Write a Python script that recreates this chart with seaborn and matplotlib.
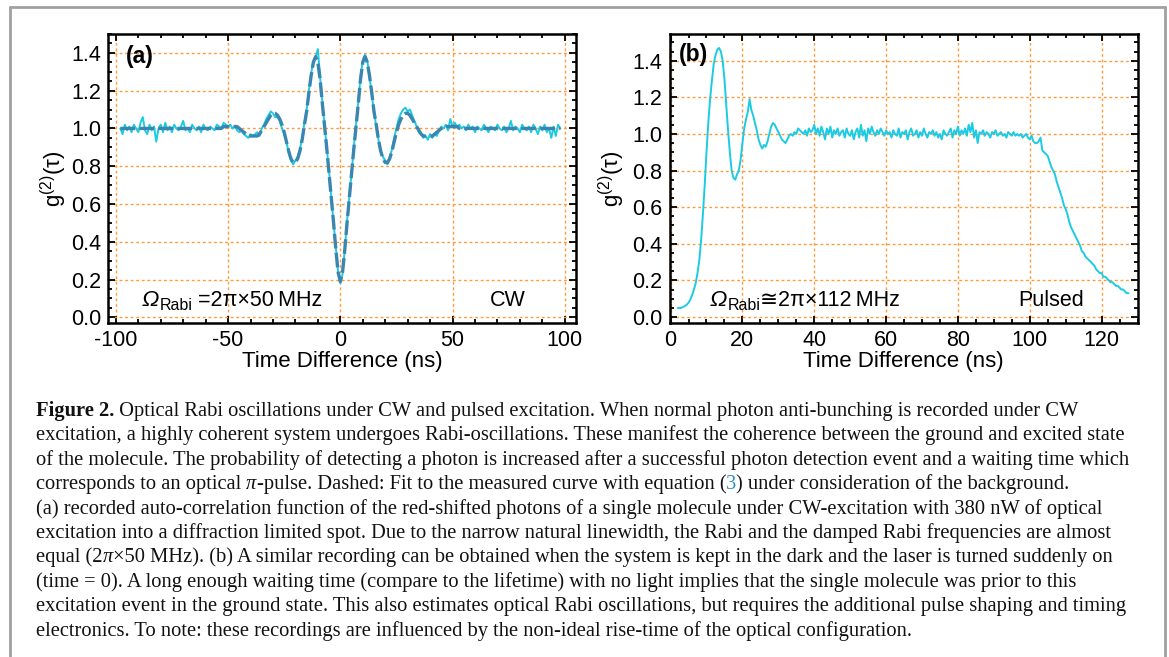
import numpy as np
import pandas as pd
import matplotlib
matplotlib.use("Agg")
import matplotlib.pyplot as plt
import seaborn as sns
from matplotlib.ticker import MultipleLocator, FormatStrFormatter
from matplotlib.lines import Line2D

# ---------------- data ----------------
# panel (a): CW excitation, time axis in ns (1 ns bins)
A_TIME = np.arange(-98, 99, 1)
A_G2 = [
    1.00, 0.97, 1.02, 0.99, 1.01, 0.98, 1.02, 1.00, 0.98, 1.03,
    1.06, 0.99, 0.97, 1.02, 0.99, 1.01, 0.93, 1.00, 1.02, 0.98,
    1.03, 0.99, 1.01, 0.98, 1.02, 1.00, 0.99, 1.01, 1.04, 0.99,
    1.00, 0.98, 1.02, 1.00, 0.99, 1.01, 0.98, 1.02, 1.00, 0.99,
    1.01, 1.00, 0.99, 1.02, 1.01, 1.00, 1.03, 1.02, 1.01, 1.02,
    1.00, 1.01, 0.99, 0.98, 0.99, 0.97, 0.96, 0.95, 0.97, 0.96,
    0.97, 0.98, 0.96, 1.00, 1.02, 1.05, 1.07, 1.09, 1.08, 1.06,
    1.06, 1.04, 1.00, 0.97, 0.93, 0.87, 0.83, 0.81, 0.83, 0.85,
    0.89, 0.95, 1.03, 1.10, 1.20, 1.29, 1.36, 1.38, 1.42, 1.27,
    1.14, 1.02, 0.89, 0.77, 0.63, 0.50, 0.37, 0.24, 0.18, 0.23,
    0.36, 0.51, 0.64, 0.76, 0.90, 1.02, 1.14, 1.27, 1.36, 1.39,
    1.36, 1.28, 1.18, 1.09, 1.01, 0.94, 0.88, 0.85, 0.83, 0.81,
    0.84, 0.89, 0.95, 1.00, 1.05, 1.08, 1.10, 1.11, 1.09, 1.10,
    1.07, 1.04, 1.01, 0.98, 0.97, 0.95, 0.96, 0.94, 0.97, 0.95,
    0.97, 0.96, 0.99, 1.01, 1.00, 1.02, 0.99, 1.05, 1.01, 1.03,
    1.01, 1.02, 1.00, 1.01, 0.99, 1.02, 1.00, 1.01, 0.98, 1.01,
    1.00, 0.99, 1.02, 1.00, 0.98, 1.01, 1.00, 0.99, 1.02, 1.00,
    0.99, 1.01, 0.98, 1.00, 1.04, 0.99, 1.01, 1.00, 0.98, 1.02,
    1.00, 0.99, 1.01, 0.98, 1.02, 1.00, 0.97, 1.01, 0.99, 1.02,
    0.98, 1.00, 0.95, 1.01, 0.96, 1.02, 1.00,
]
A_FIT = [
    1.00, 1.00, 1.00, 1.00, 1.00, 1.00, 1.00, 1.00, 1.00, 1.00,
    1.00, 1.00, 1.00, 1.00, 1.00, 1.00, 1.00, 1.00, 1.00, 1.00,
    1.00, 1.00, 1.00, 1.00, 1.00, 1.00, 1.00, 1.00, 1.00, 1.00,
    1.00, 1.00, 1.00, 1.00, 1.00, 1.00, 1.00, 1.00, 1.00, 1.00,
    1.00, 1.00, 1.00, 1.00, 1.00,
    1.00, 1.01, 1.01, 1.01, 1.01, 1.01, 1.01, 1.01, 1.00, 0.99,
    0.98, 0.97, 0.96, 0.96, 0.96, 0.96, 0.96, 0.97, 0.99, 1.01,
    1.03, 1.05, 1.07, 1.08, 1.08, 1.07, 1.05, 1.02, 0.98, 0.93,
    0.88, 0.84, 0.82, 0.82, 0.84, 0.88, 0.94, 1.02, 1.09, 1.19,
    1.28, 1.35, 1.38, 1.35, 1.26, 1.13, 1.01, 0.89, 0.76, 0.63,
    0.50, 0.36, 0.24,
    0.19,
    0.24, 0.36, 0.50, 0.63, 0.76, 0.89, 1.01, 1.13, 1.26, 1.35,
    1.38, 1.35, 1.28, 1.19, 1.09, 1.02, 0.94, 0.88, 0.84, 0.82,
    0.82, 0.84, 0.88, 0.93, 0.98, 1.02, 1.05, 1.07, 1.08, 1.08,
    1.07, 1.05, 1.03, 1.01, 0.99, 0.97, 0.96, 0.96, 0.96, 0.96,
    0.96, 0.97, 0.98, 0.99, 1.00, 1.01, 1.01, 1.01, 1.01, 1.01,
    1.01, 1.01, 1.00,
    1.00, 1.00, 1.00, 1.00, 1.00, 1.00, 1.00, 1.00, 1.00, 1.00,
    1.00, 1.00, 1.00, 1.00, 1.00, 1.00, 1.00, 1.00, 1.00, 1.00,
    1.00, 1.00, 1.00, 1.00, 1.00, 1.00, 1.00, 1.00, 1.00, 1.00,
    1.00, 1.00, 1.00, 1.00, 1.00, 1.00, 1.00, 1.00, 1.00, 1.00,
    1.00, 1.00, 1.00, 1.00, 1.00,
]

# panel (b): pulsed excitation, time axis in ns (0.5 ns bins, 2.0 ... 127.5)
B_TIME = np.arange(2.0, 128.0, 0.5)
B_G2 = [
    0.050, 0.048, 0.050, 0.055, 0.060, 0.067, 0.078, 0.095, 0.120, 0.150,
    0.185, 0.24, 0.31, 0.42, 0.56, 0.72, 0.90, 1.06, 1.19, 1.29,
    1.38, 1.43, 1.46, 1.47, 1.45, 1.40, 1.30, 1.16, 1.02, 0.90,
    0.80, 0.76, 0.75, 0.78, 0.80, 0.86, 0.95, 1.03, 1.08, 1.12,
    1.19, 1.13, 1.10, 1.06, 1.02, 0.97, 0.94, 0.92, 0.94, 0.93,
    0.96, 1.00, 1.04, 1.06, 1.05, 1.03, 1.01, 0.99, 0.97, 0.96,
    0.95, 0.97, 0.99, 1.00, 0.99, 1.01, 1.00, 1.03, 1.02, 1.01,
    1.00, 1.02, 0.99, 1.03, 1.01, 1.02, 1.05, 1.00, 1.03, 0.99,
    1.04, 1.01, 0.97, 1.03, 1.00, 1.04, 0.98, 1.02, 1.00, 1.03,
    0.99, 1.01, 1.02, 0.98, 1.03, 1.00, 0.99, 1.02, 0.97, 1.01,
    1.03, 0.98, 1.05, 0.99, 1.02, 0.96, 1.03, 1.00, 1.04, 1.01,
    0.99, 1.02, 1.00, 1.03, 1.01, 0.99, 1.02, 1.00, 1.01, 0.98,
    1.02, 1.00, 0.99, 1.03, 0.98, 1.01, 1.00, 1.02, 0.97, 1.01,
    1.03, 0.99, 1.00, 1.02, 0.98, 1.01, 0.99, 1.03, 1.00, 0.98,
    1.01, 1.00, 1.02, 0.99, 1.01, 0.98, 1.00, 0.97, 1.02, 1.00,
    0.99, 1.01, 1.03, 0.98, 1.02, 1.00, 1.04, 0.99, 1.02, 1.00,
    1.03, 0.99, 1.05, 1.01, 1.06, 0.98, 1.02, 0.95, 1.01, 1.00,
    1.02, 0.99, 1.01, 1.00, 0.98, 1.01, 1.00, 1.02, 0.99, 1.00,
    1.01, 0.99, 1.00, 0.98, 1.01, 1.00, 0.99, 1.01, 0.99, 1.00,
    0.99, 1.00, 0.98, 0.99, 1.00, 0.98, 0.97, 0.99, 0.96, 0.95,
    0.95, 0.96, 0.98, 0.91, 0.90, 0.89, 0.88, 0.85, 0.82, 0.80,
    0.78, 0.74, 0.71, 0.68, 0.65, 0.61, 0.59, 0.56, 0.52, 0.49,
    0.47, 0.45, 0.43, 0.41, 0.39, 0.36, 0.35, 0.33, 0.32, 0.31,
    0.30, 0.29, 0.28, 0.26, 0.25, 0.24, 0.24, 0.22, 0.22, 0.21,
    0.20, 0.19, 0.19, 0.18, 0.17, 0.17, 0.16, 0.15, 0.15, 0.14, 0.13, 0.13,
]

A_XTICKS = [-100, -50, 0, 50, 100]
B_XTICKS = [0, 20, 40, 60, 80, 100, 120]
Y_TICKS = [0.0, 0.2, 0.4, 0.6, 0.8, 1.0, 1.2, 1.4]
X_LABEL = "Time Difference (ns)"
Y_LABEL = r"g$^{(2)}$(τ)"
PANEL_LABELS = ["(a)", "(b)"]
RABI_SYMBOL = "Ω"
RABI_SUB = "Rabi"
RABI_A = " =2π×50\u2009MHz"
RABI_B = "≅2π×112\u2009MHz"
MODE_LABELS = ["CW", "Pulsed"]

CAPTION = [
    [("Figure 2.", "b"), (" Optical Rabi oscillations under CW and pulsed excitation. When normal photon anti-bunching is recorded under CW", "n")],
    [("excitation, a highly coherent system undergoes Rabi-oscillations. These manifest the coherence between the ground and excited state", "n")],
    [("of the molecule. The probability of detecting a photon is increased after a successful photon detection event and a waiting time which", "n")],
    [("corresponds to an optical ", "n"), ("π", "i"), ("-pulse. Dashed: Fit to the measured curve with equation (", "n"), ("3", "c"), (") under consideration of the background.", "n")],
    [("(a) recorded auto-correlation function of the red-shifted photons of a single molecule under CW-excitation with 380 nW of optical", "n")],
    [("excitation into a diffraction limited spot. Due to the narrow natural linewidth, the Rabi and the damped Rabi frequencies are almost", "n")],
    [("equal (2", "n"), ("π", "i"), ("×50 MHz). (b) A similar recording can be obtained when the system is kept in the dark and the laser is turned suddenly on", "n")],
    [("(time = 0). A long enough waiting time (compare to the lifetime) with no light implies that the single molecule was prior to this", "n")],
    [("excitation event in the ground state. This also estimates optical Rabi oscillations, but requires the additional pulse shaping and timing", "n")],
    [("electronics. To note: these recordings are influenced by the non-ideal rise-time of the optical configuration.", "n")],
]

# ---------------- style ----------------
CYAN = "#1ccbe3"
FIT_BLUE = "#3b86b0"
ORANGE = "#ff9a3a"
SANS = ["Liberation Sans", "DejaVu Sans"]
SERIF = ["Liberation Serif", "DejaVu Serif"]

sns.set_theme(style="ticks")
plt.rcParams["font.family"] = SANS
plt.rcParams["axes.unicode_minus"] = False
plt.rcParams["mathtext.fontset"] = "custom"
plt.rcParams["mathtext.rm"] = "Liberation Sans"
plt.rcParams["mathtext.it"] = "Liberation Sans:italic"
plt.rcParams["mathtext.bf"] = "Liberation Sans:bold"
plt.rcParams["mathtext.sf"] = "Liberation Sans"

W, H = 1169, 657
fig = plt.figure(figsize=(W / 100, H / 100), dpi=100)
fig.patch.set_facecolor("white")


def rect(l, t, r, b):
    return [l / W, 1 - b / H, (r - l) / W, (b - t) / H]


axA = fig.add_axes(rect(108, 34, 576, 323))
axB = fig.add_axes(rect(669.5, 34, 1137.5, 323))

dfA = pd.DataFrame({"t": A_TIME, "g2": A_G2, "fit": A_FIT})
dfB = pd.DataFrame({"t": B_TIME, "g2": B_G2})

sns.lineplot(data=dfA, x="t", y="g2", ax=axA, color=CYAN, lw=1.4, estimator=None, zorder=3)
sns.lineplot(data=dfA, x="t", y="fit", ax=axA, color=FIT_BLUE, lw=2.4, estimator=None,
             linestyle=(0, (4.4, 1.3)), zorder=4)
sns.lineplot(data=dfB, x="t", y="g2", ax=axB, color=CYAN, lw=1.4, estimator=None, zorder=3)

for ax, xt, xlim, ylim, xminor, lpad in [
    (axA, A_XTICKS, (-103.5, 105), (-0.03, 1.5), 10, 1.5),
    (axB, B_XTICKS, (-0.3, 130), (-0.033, 1.546), 5, 4),
]:
    ax.set_xlim(*xlim)
    ax.set_ylim(*ylim)
    ax.set_xticks(xt)
    ax.set_yticks(Y_TICKS)
    ax.yaxis.set_major_formatter(FormatStrFormatter("%.1f"))
    ax.xaxis.set_minor_locator(MultipleLocator(xminor))
    ax.yaxis.set_minor_locator(MultipleLocator(0.05))
    ax.set_axisbelow(True)
    ax.grid(True, which="major", color=ORANGE, linestyle=(0, (2, 2)), linewidth=1.0)
    ax.tick_params(which="both", direction="in", top=True, right=True, color="black",
                   width=1.3, labelsize=15.5, labelcolor="black")
    ax.tick_params(which="major", length=5, pad=5)
    ax.tick_params(which="minor", length=3)
    for s in ax.spines.values():
        s.set_visible(True)
        s.set_linewidth(1.8)
        s.set_color("black")
    ax.set_xlabel(X_LABEL, fontsize=16, labelpad=0, color="black")
    ax.set_ylabel(Y_LABEL, fontsize=16, labelpad=lpad, color="black")
    ax.set_facecolor("white")

# overlay for free text
ov = fig.add_axes([0, 0, 1, 1], zorder=10)
ov.set_axis_off()
ov.patch.set_alpha(0)


def chain(x_px, y_top, segments, **common):
    """place text segments one after another on a common baseline (y measured from top)"""
    yb = H - y_top
    prev = None
    out = []
    for txt, kw in segments:
        kwargs = dict(common)
        kwargs.update(kw)
        dy = kwargs.pop("dy", 0)
        if prev is None:
            t = ov.annotate(txt, xy=(x_px, yb - dy), xycoords="figure pixels",
                            ha="left", va="baseline", **kwargs)
        else:
            t = ov.annotate(txt, xy=(1, yb - dy), xycoords=(prev, "figure pixels"),
                            ha="left", va="baseline", **kwargs)
        prev = t
        out.append(t)
    return out


# panel letters
ov.text(126 / W, 1 - 57 / H, PANEL_LABELS[0], fontsize=16.5, fontweight="bold",
        va="center", ha="left", color="black")
ov.text(679 / W, 1 - 55 / H, PANEL_LABELS[1], fontsize=16.5, fontweight="bold",
        va="center", ha="left", color="black")

# Rabi frequency annotations
for x0, rest in [(142, RABI_A), (710, RABI_B)]:
    chain(x0, 306, [
        (RABI_SYMBOL, dict(fontsize=16.5, style="italic")),
        (RABI_SUB, dict(fontsize=11.5, dy=4.5)),
        (rest, dict(fontsize=15.5)),
    ], color="black", family=SANS)
ov.text(490 / W, 1 - 306 / H, MODE_LABELS[0], fontsize=15.5, va="baseline", ha="left", color="black")
ov.text(1018 / W, 1 - 306 / H, MODE_LABELS[1], fontsize=15.5, va="baseline", ha="left", color="black")

# caption: fit font size so that line 2 spans the measured width
renderer = fig.canvas.get_renderer()
probe = fig.text(0, 0, CAPTION[1][0][0], fontsize=12, family=SERIF)
w12 = probe.get_window_extent(renderer).width
probe.remove()
cap_size = 12 * (1123 - 36) / w12

styles = {
    "n": dict(family=SERIF),
    "b": dict(family=SERIF, fontweight="bold"),
    "i": dict(family=SERIF, style="italic"),
    "c": dict(family=SERIF, color="#2f8fc0"),
}
y0, dy = 416, 24.4
for i, line in enumerate(CAPTION):
    segs = [(txt, styles[k]) for txt, k in line]
    chain(36, y0 + i * dy, segs, fontsize=cap_size, color="#111111")

# outer frame (top, left, right edges)
frame_col = "#a0a0a0"
for xs, ys in [((9.5, 1165), (7, 7)), ((9.5, 9.5), (7, 660)), ((1165, 1165), (7, 660))]:
    fig.add_artist(Line2D([x / W for x in xs], [1 - y / H for y in ys], color=frame_col, lw=2.0))

fig.savefig("out.png", dpi=100)
